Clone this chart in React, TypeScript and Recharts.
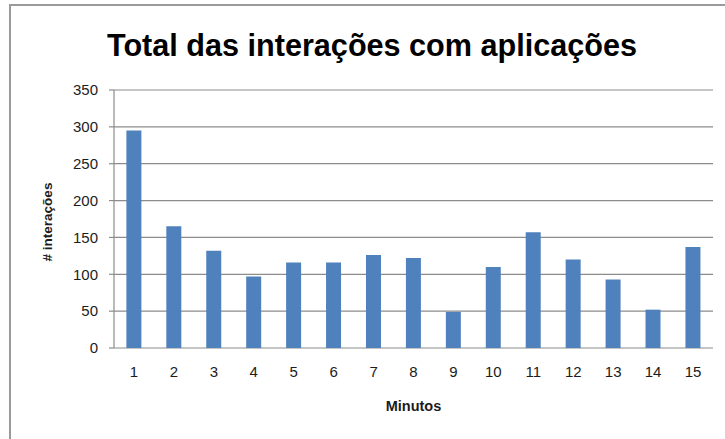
import React from 'react';
import { BarChart, Bar, XAxis, YAxis, CartesianGrid } from 'recharts';

const minutes = ['1', '2', '3', '4', '5', '6', '7', '8', '9', '10', '11', '12', '13', '14', '15'];
const interactions = [295, 165, 132, 97, 116, 116, 126, 122, 49, 110, 157, 120, 93, 52, 137];
const yTicks = [0, 50, 100, 150, 200, 250, 300, 350];
const edgeTicks = [0, 1, 2, 3, 4, 5, 6, 7, 8, 9, 10, 11, 12, 13, 14, 15];

const title = 'Total das interações com aplicações';
const xTitle = 'Minutos';
const yTitle = '# interações';

const data = minutes.map((m, i) => ({ minute: m, value: interactions[i], edge: i }));

const GRID = '#8c8c8c';
const TEXT = '#1c1c1c';
const FONT = '"Liberation Sans", Arial, sans-serif';

const YLabel = (props: any) => {
  const vb = props.viewBox || {};
  const x = (vb.x || 0) + 47;
  const y = (vb.y || 0) + (vb.height || 0) / 2 + 3;
  return (
    <text
      x={x}
      y={y}
      transform={`rotate(-90, ${x}, ${y})`}
      textAnchor="middle"
      dominantBaseline="central"
      fontFamily={FONT}
      fontWeight="bold"
      fontSize={13.5}
      fill={TEXT}
    >
      {yTitle}
    </text>
  );
};

const XLabel = (props: any) => {
  const vb = props.viewBox || {};
  const x = (vb.x || 0) + (vb.width || 0) / 2;
  const y = (vb.y || 0) + 58;
  return (
    <text x={x} y={y} textAnchor="middle" dominantBaseline="central" fontFamily={FONT} fontWeight="bold" fontSize={14.5} fill={TEXT}>
      {xTitle}
    </text>
  );
};

export default function App() {
  return (
    <div style={{ position: 'absolute', left: 0, top: 0, width: 725, height: 439, background: '#fff', overflow: 'hidden' }}>
      <div
        style={{
          position: 'absolute',
          left: 9,
          top: 4,
          width: 740,
          height: 460,
          borderLeft: '2px solid #9a9a9a',
          borderTop: '2px solid #9a9a9a',
        }}
      />
      <BarChart
        width={725}
        height={439}
        data={data}
        margin={{ top: 90, right: 12, bottom: 0, left: 0 }}
        barCategoryGap="31%"
        style={{ position: 'absolute', left: 0, top: 0 }}
      >
        <text
          x={372}
          y={45}
          textAnchor="middle"
          dominantBaseline="central"
          fontFamily={FONT}
          fontWeight="bold"
          fontSize={31}
          textLength={530}
          lengthAdjust="spacingAndGlyphs"
          fill="#000"
        >
          {title}
        </text>
        <CartesianGrid horizontal={true} vertical={false} stroke={GRID} strokeWidth={1.2} />
        <XAxis
          xAxisId="edges"
          dataKey="edge"
          type="number"
          domain={[0, 15]}
          ticks={edgeTicks}
          tick={false}
          tickSize={5}
          height={0}
          axisLine={{ stroke: GRID, strokeWidth: 1.2 }}
          tickLine={{ stroke: GRID, strokeWidth: 1.2 }}
          allowDataOverflow
        />
        <XAxis
          xAxisId="cat"
          dataKey="minute"
          height={91}
          tickSize={0}
          tickMargin={18}
          axisLine={false}
          tickLine={false}
          tick={{ fill: TEXT, fontSize: 15, fontFamily: FONT }}
          interval={0}
          label={<XLabel />}
        />
        <YAxis
          width={114}
          domain={[0, 350]}
          ticks={yTicks}
          tickSize={5}
          tickMargin={11}
          axisLine={{ stroke: GRID, strokeWidth: 1.2 }}
          tickLine={{ stroke: GRID, strokeWidth: 1.2 }}
          tick={{ fill: TEXT, fontSize: 15, fontFamily: FONT }}
          interval={0}
          label={<YLabel />}
        />
        <Bar xAxisId="cat" dataKey="value" fill="#4F81BD" isAnimationActive={false} />
      </BarChart>
    </div>
  );
}
